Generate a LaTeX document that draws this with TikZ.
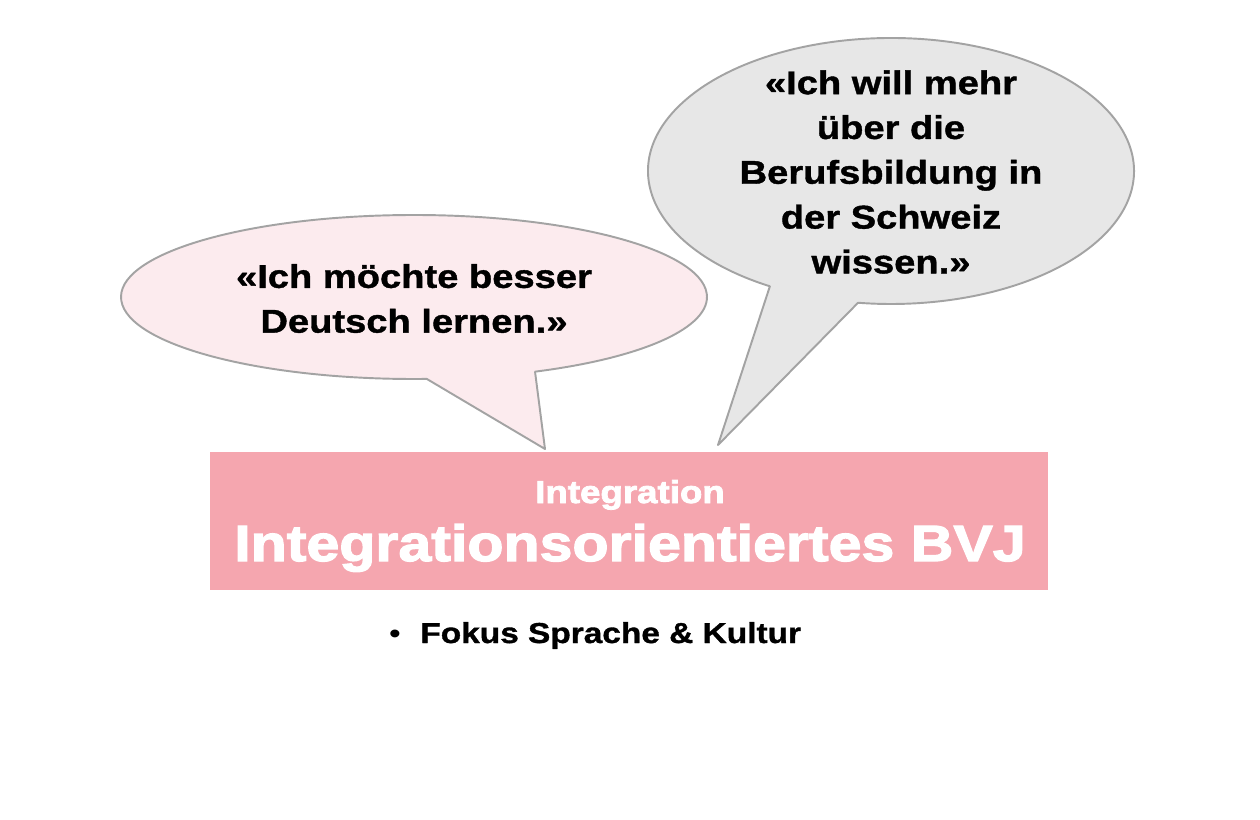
\documentclass[tikz,border=0pt]{standalone}
\usepackage{fontspec}
\setmainfont{Liberation Sans}[FakeStretch=1.16, BoldFeatures={FakeBold=1.2}]
\newfontfamily\titlefont{Liberation Sans}[FakeStretch=1.16, BoldFeatures={FakeBold=2.5}]
\definecolor{bvjpink}{HTML}{F5A6AF}
\definecolor{wishpink}{HTML}{FCEBEE}
\definecolor{wishgray}{HTML}{E7E7E7}
\definecolor{bubbleline}{HTML}{A3A3A3}

\begin{document}
\begin{tikzpicture}[x=0.02cm, y=-0.02cm,
  bubble/.style={draw=bubbleline, line width=1.1pt, line join=round},
  quote/.style={align=center, inner sep=0pt, font=\fontsize{18.7}{25.5}\selectfont\bfseries}]
\useasboundingbox (0,0) rectangle (1260,820);
% speech bubbles
\coordinate (wish1) at (414,297);
\coordinate (wish2) at (891,171);
\coordinate (tip1) at (545,449);
\coordinate (tip2) at (718,445);
\path[bubble, fill=wishpink] ([shift={(65.6:293 and 82)}]wish1) -- (tip1)
  -- ([shift={(87.5:293 and 82)}]wish1)
  arc[start angle=87.5, end angle=425.6, x radius=293, y radius=82] -- cycle;
\path[bubble, fill=wishgray] ([shift={(97.8:243 and 133)}]wish2) -- (tip2)
  -- ([shift={(119.9:243 and 133)}]wish2)
  arc[start angle=119.9, end angle=457.8, x radius=243, y radius=133] -- cycle;
\node[quote] (deutsch) at (414,298.5) {«Ich möchte besser\\Deutsch lernen.»};
\node[quote] (beruf) at (891,172) {«Ich will mehr\\über die\\Berufsbildung in\\der Schweiz\\wissen.»};
% box
\node[fill=bvjpink, minimum width=16.76cm, minimum height=2.76cm, inner sep=0pt] (bvj) at (629,521) {};
\node[anchor=base, text=white, font=\titlefont\fontsize{18}{22}\selectfont\bfseries] (bvjsub) at (630,503) {Integration};
\node[anchor=base, text=white, font=\titlefont\fontsize{29}{34}\selectfont\bfseries] (bvjtitle) at (630,561) {Integrationsorientiertes BVJ};
% bullet
\node[inner sep=0pt, font=\fontsize{16.4}{20}\selectfont] (dot) at (395,637) {\textbullet};
\node[anchor=base west, inner sep=0pt, font=\fontsize{16.4}{20}\selectfont\bfseries] (fokus) at (420,643) {Fokus Sprache \& Kultur};
\end{tikzpicture}
\end{document}
